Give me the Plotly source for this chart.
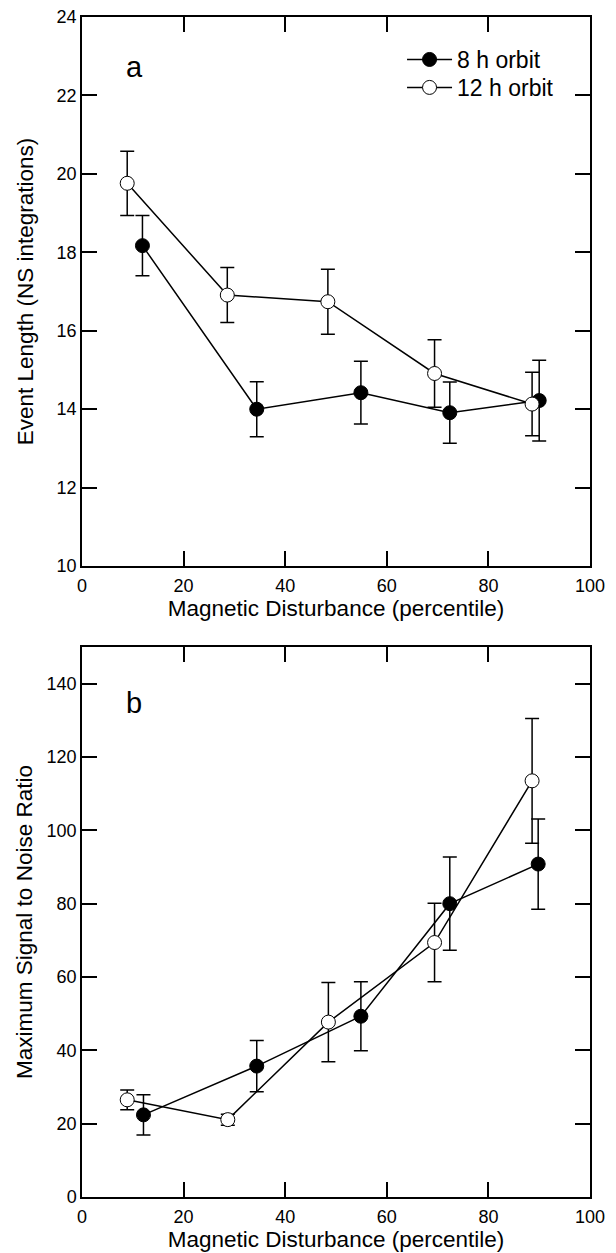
import plotly.graph_objects as go

# ---- data ----
x8_a = [11.9, 34.4, 54.9, 72.4, 90.0]
y8_a = [18.17, 14.0, 14.42, 13.91, 14.22]
e8_a = [0.77, 0.70, 0.80, 0.78, 1.03]

x12_a = [8.9, 28.6, 48.4, 69.4, 88.6]
y12_a = [19.76, 16.91, 16.74, 14.91, 14.13]
e12_a = [0.82, 0.70, 0.83, 0.86, 0.81]

x8_b = [12.1, 34.4, 54.9, 72.4, 89.8]
y8_b = [22.4, 35.7, 49.3, 80.0, 90.8]
e8_b = [5.5, 7.0, 9.4, 12.7, 12.3]

x12_b = [8.9, 28.7, 48.5, 69.4, 88.6]
y12_b = [26.5, 21.1, 47.7, 69.4, 113.5]
e12_b = [2.7, 1.5, 10.8, 10.7, 17.0]

series_names = ["8 h orbit", "12 h orbit"]
x_ticks = [0, 20, 40, 60, 80, 100]
ya_ticks = [10, 12, 14, 16, 18, 20, 22, 24]
yb_ticks = [0, 20, 40, 60, 80, 100, 120, 140]

FONT = "Liberation Sans, Arial, Helvetica, sans-serif"

fig = go.Figure()


def add(x, y, e, filled, xa, ya, name, show, leg):
    fig.add_trace(go.Scatter(
        x=x, y=y, mode="lines+markers", name=name, showlegend=show,
        legend=leg, xaxis=xa, yaxis=ya,
        line=dict(color="black", width=1.5),
        marker=dict(size=14, color="black" if filled else "white",
                    line=dict(color="black", width=1)),
        error_y=dict(type="data", array=e, visible=True, color="black",
                     thickness=1.5, width=7),
    ))


add(x8_a, y8_a, e8_a, True, "x", "y", series_names[0], True, "legend")
add(x12_a, y12_a, e12_a, False, "x", "y", series_names[1], True, "legend2")
add(x8_b, y8_b, e8_b, True, "x2", "y2", series_names[0], False, "legend")
add(x12_b, y12_b, e12_b, False, "x2", "y2", series_names[1], False, "legend2")

axis_common = dict(
    showline=True, linecolor="black", linewidth=1.5, mirror="ticks",
    ticks="inside", ticklen=15, tickwidth=1.5, tickcolor="black",
    showgrid=False, zeroline=False, automargin=False,
    tickfont=dict(family=FONT, size=18, color="black"),
    title_font=dict(family=FONT, size=22.5, color="black"),
)

legend_common = dict(x=0.63, xanchor="left", yanchor="top",
                     font=dict(family=FONT, size=23, color="black"),
                     bgcolor="rgba(0,0,0,0)", itemwidth=45)

fig.update_layout(
    width=616, height=1253,
    margin=dict(l=82, r=26, t=17, b=56),
    paper_bgcolor="white", plot_bgcolor="white",
    font=dict(family=FONT, color="black"),
    showlegend=True,
    legend=dict(legend_common, y=0.9822),
    legend2=dict(legend_common, y=0.9585),
    xaxis=dict(axis_common, domain=[0, 1], range=[0, 100], tickvals=x_ticks,
               ticklabelstandoff=3,
               anchor="y", title=dict(text="Magnetic Disturbance (percentile)", standoff=4)),
    yaxis=dict(axis_common, domain=[0.5347, 1], range=[10, 24], tickvals=ya_ticks,
               anchor="x", title=dict(text="Event Length (NS integrations)", standoff=17)),
    xaxis2=dict(axis_common, domain=[0, 1], range=[0, 100], tickvals=x_ticks,
                ticklabelstandoff=3,
                anchor="y2", title=dict(text="Magnetic Disturbance (percentile)", standoff=4)),
    yaxis2=dict(axis_common, domain=[0, 0.4661], range=[0, 150], tickvals=yb_ticks,
                anchor="x2", title=dict(text="Maximum Signal to Noise Ratio", standoff=8)),
    annotations=[
        dict(text="a", x=0.1024, y=0.9576, xref="paper", yref="paper",
             xanchor="center", yanchor="middle",
             showarrow=False, font=dict(family=FONT, size=29, color="black")),
        dict(text="b", x=0.1024, y=0.4186, xref="paper", yref="paper",
             xanchor="center", yanchor="middle",
             showarrow=False, font=dict(family=FONT, size=29, color="black")),
    ],
)

fig.write_html("out.html")
